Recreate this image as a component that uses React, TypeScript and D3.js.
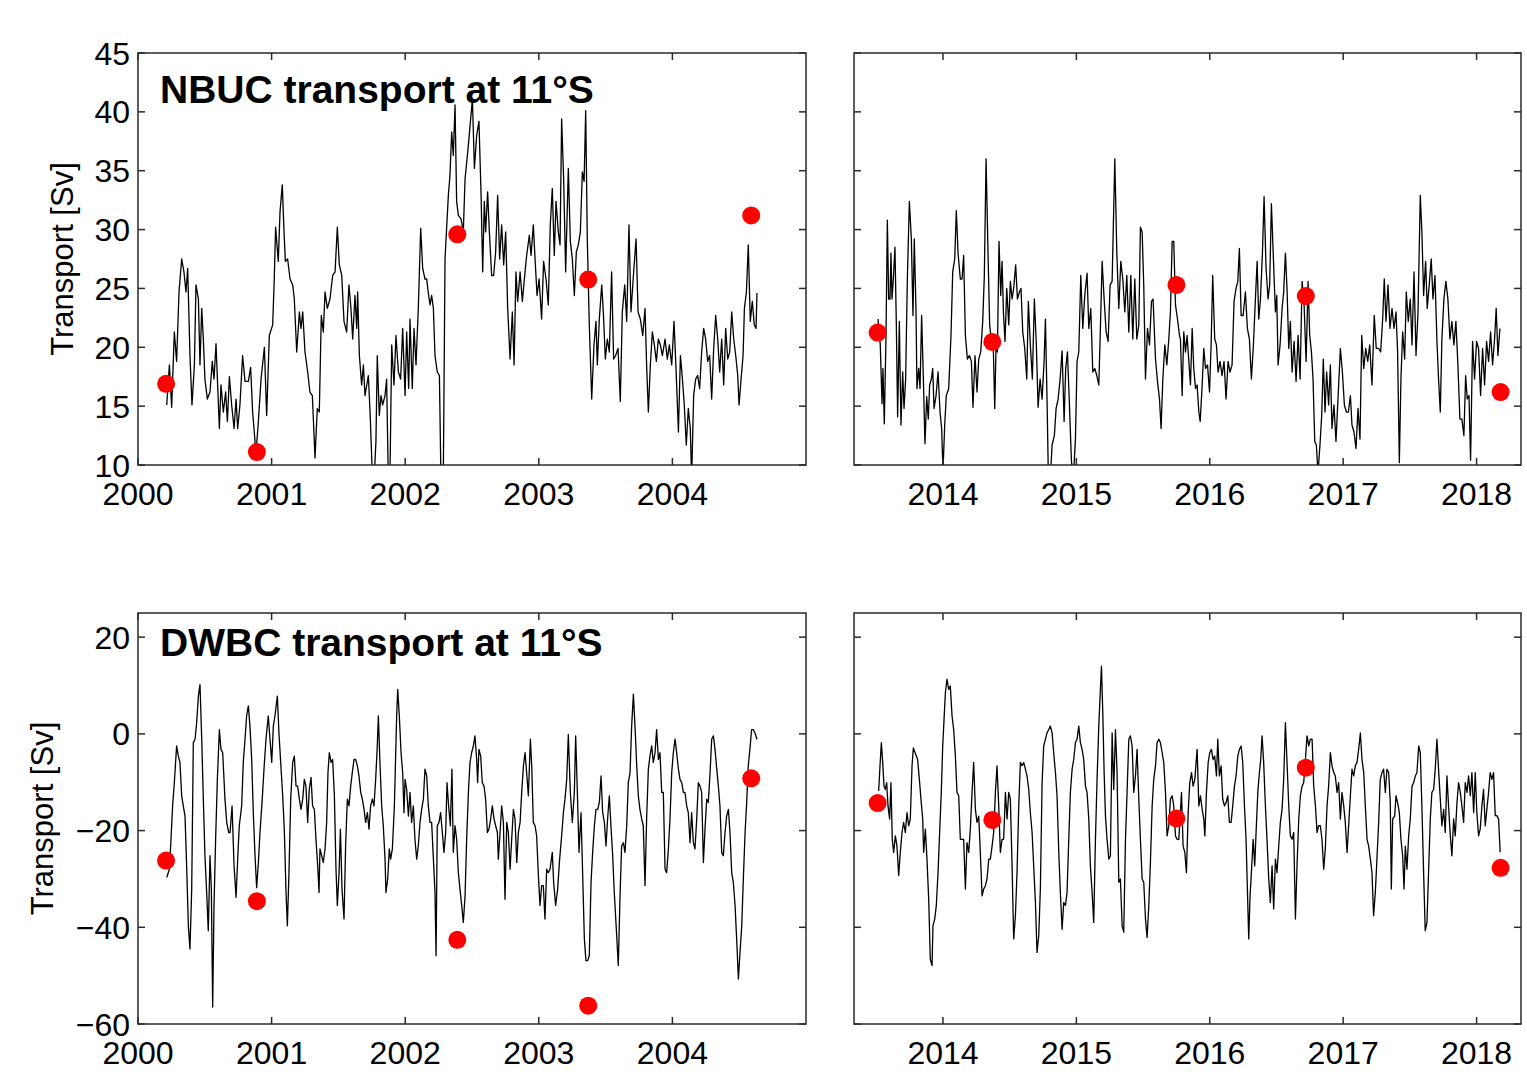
import React from 'react'
import * as d3 from 'd3'

// NBUC transport at 11°S, 2000-2004 mooring period [year, Sv]
const nbucEarly: [number, number][] = [
  [2000.215, 15.1], [2000.235, 18.5], [2000.252, 14.9], [2000.272, 21.3], [2000.289, 18.8], [2000.307, 24.7],
  [2000.327, 27.5], [2000.344, 26.4], [2000.359, 24.7], [2000.372, 26.7], [2000.389, 19.3], [2000.404, 15.1],
  [2000.422, 18.5], [2000.434, 25.3], [2000.452, 24.1], [2000.464, 18.5], [2000.477, 23.3], [2000.489, 20.7],
  [2000.501, 17.3], [2000.519, 15.6], [2000.539, 16.2], [2000.556, 18.8], [2000.569, 17.3], [2000.584, 20.3],
  [2000.596, 16.8], [2000.609, 13.1], [2000.621, 16.8], [2000.639, 14.5], [2000.656, 16.2], [2000.669, 13.7],
  [2000.684, 17.5], [2000.701, 15.1], [2000.719, 13.1], [2000.734, 15.6], [2000.746, 13.1], [2000.763, 15.1],
  [2000.783, 19.3], [2000.801, 17.1], [2000.826, 17.1], [2000.843, 18.3], [2000.858, 14.5], [2000.883, 11.0],
  [2000.901, 13.7], [2000.921, 17.3], [2000.946, 20.0], [2000.963, 14.2], [2000.983, 21.0], [2001.008, 21.9],
  [2001.020, 25.8], [2001.030, 30.2], [2001.050, 27.3], [2001.063, 31.5], [2001.080, 33.8], [2001.093, 29.8],
  [2001.103, 27.3], [2001.120, 27.5], [2001.138, 25.8], [2001.158, 25.3], [2001.170, 24.1], [2001.188, 19.6],
  [2001.208, 23.0], [2001.220, 21.6], [2001.233, 23.0], [2001.250, 19.6], [2001.270, 17.9], [2001.287, 16.2],
  [2001.305, 15.9], [2001.325, 10.6], [2001.342, 14.8], [2001.357, 14.5], [2001.372, 22.7], [2001.387, 21.3],
  [2001.400, 24.7], [2001.417, 23.3], [2001.437, 24.1], [2001.457, 26.1], [2001.475, 26.4], [2001.492, 30.2],
  [2001.507, 27.0], [2001.525, 26.1], [2001.542, 22.2], [2001.562, 21.3], [2001.579, 25.3], [2001.594, 23.3],
  [2001.607, 20.7], [2001.624, 24.4], [2001.637, 21.6], [2001.644, 24.7], [2001.657, 19.3], [2001.674, 16.8],
  [2001.687, 18.5], [2001.699, 15.9], [2001.724, 17.6], [2001.737, 14.5], [2001.752, 9.8], [2001.766, 8.5],
  [2001.781, 12.0], [2001.791, 19.3], [2001.806, 14.2], [2001.819, 15.9], [2001.831, 15.1], [2001.849, 15.9],
  [2001.861, 17.3], [2001.874, 8.5], [2001.886, 9.0], [2001.899, 20.2], [2001.916, 16.8], [2001.931, 21.0],
  [2001.949, 17.9], [2001.966, 17.3], [2001.981, 21.6], [2001.999, 15.9], [2002.011, 21.3], [2002.026, 16.5],
  [2002.036, 22.4], [2002.053, 16.5], [2002.066, 21.6], [2002.081, 18.5], [2002.098, 23.3], [2002.116, 30.1],
  [2002.131, 26.7], [2002.148, 25.8], [2002.161, 25.8], [2002.173, 24.6], [2002.186, 23.6], [2002.198, 24.4],
  [2002.211, 23.3], [2002.223, 19.3], [2002.240, 17.9], [2002.256, 17.6], [2002.268, 8.5], [2002.285, 8.5],
  [2002.298, 27.5], [2002.310, 30.1], [2002.323, 32.9], [2002.335, 34.6], [2002.348, 38.3], [2002.360, 36.3],
  [2002.373, 40.6], [2002.385, 32.4], [2002.398, 31.2], [2002.418, 30.9], [2002.435, 29.8], [2002.448, 34.3],
  [2002.473, 37.2], [2002.503, 41.1], [2002.518, 35.2], [2002.535, 38.0], [2002.552, 39.2], [2002.568, 32.9],
  [2002.580, 26.4], [2002.592, 32.4], [2002.602, 29.8], [2002.617, 33.2], [2002.630, 29.8], [2002.647, 26.1],
  [2002.662, 26.1], [2002.677, 28.1], [2002.692, 32.9], [2002.707, 27.5], [2002.722, 30.4], [2002.737, 27.0],
  [2002.752, 29.8], [2002.767, 23.3], [2002.785, 19.0], [2002.802, 23.0], [2002.815, 18.5], [2002.829, 26.4],
  [2002.842, 23.9], [2002.860, 26.4], [2002.877, 23.9], [2002.892, 25.8], [2002.909, 27.8], [2002.929, 29.5],
  [2002.942, 27.8], [2002.959, 30.4], [2002.972, 27.5], [2002.987, 24.4], [2003.002, 25.8], [2003.021, 22.4],
  [2003.036, 27.3], [2003.054, 25.8], [2003.071, 23.6], [2003.086, 30.4], [2003.101, 33.5], [2003.116, 27.8],
  [2003.129, 32.4], [2003.146, 29.8], [2003.159, 28.7], [2003.171, 39.4], [2003.186, 34.3], [2003.201, 26.4],
  [2003.221, 35.2], [2003.236, 29.0], [2003.251, 27.5], [2003.266, 24.4], [2003.281, 28.1], [2003.296, 28.7],
  [2003.311, 29.8], [2003.326, 34.9], [2003.339, 34.1], [2003.351, 40.1], [2003.363, 29.2], [2003.378, 21.9],
  [2003.396, 15.6], [2003.413, 20.2], [2003.428, 22.2], [2003.438, 18.5], [2003.453, 22.4], [2003.471, 25.3],
  [2003.483, 23.0], [2003.498, 19.0], [2003.513, 20.7], [2003.528, 19.6], [2003.545, 26.4], [2003.560, 19.0],
  [2003.575, 19.3], [2003.593, 19.9], [2003.610, 15.4], [2003.625, 23.0], [2003.643, 25.3], [2003.658, 22.2],
  [2003.675, 30.4], [2003.690, 23.0], [2003.710, 26.4], [2003.728, 29.2], [2003.743, 23.0], [2003.760, 22.4],
  [2003.778, 21.0], [2003.795, 23.3], [2003.807, 18.5], [2003.820, 14.5], [2003.835, 18.5], [2003.850, 21.3],
  [2003.865, 20.2], [2003.880, 18.8], [2003.895, 20.7], [2003.910, 20.2], [2003.925, 19.3], [2003.945, 20.7],
  [2003.962, 19.0], [2003.977, 20.2], [2003.995, 18.5], [2004.012, 22.2], [2004.027, 18.2], [2004.045, 12.8],
  [2004.060, 19.3], [2004.075, 17.3], [2004.089, 15.1], [2004.104, 11.7], [2004.119, 14.8], [2004.134, 13.1],
  [2004.144, 8.8], [2004.159, 15.9], [2004.174, 17.3], [2004.189, 17.6], [2004.204, 16.5], [2004.219, 19.6],
  [2004.234, 21.6], [2004.249, 20.7], [2004.264, 18.8], [2004.279, 19.3], [2004.294, 15.6], [2004.309, 19.9],
  [2004.324, 22.7], [2004.339, 20.7], [2004.354, 17.9], [2004.369, 20.7], [2004.384, 16.8], [2004.399, 21.6],
  [2004.414, 19.0], [2004.429, 19.6], [2004.444, 23.0], [2004.459, 20.7], [2004.474, 19.3], [2004.489, 17.6],
  [2004.499, 15.1], [2004.514, 17.3], [2004.529, 19.3], [2004.539, 23.3], [2004.554, 24.7], [2004.568, 28.7],
  [2004.583, 22.2], [2004.598, 23.9], [2004.613, 21.9], [2004.626, 21.6], [2004.633, 24.6]
]

// NBUC transport at 11°S, 2013-2018 mooring period
const nbucLate: [number, number][] = [
  [2013.513, 22.4], [2013.530, 20.2], [2013.543, 15.2], [2013.550, 18.2], [2013.560, 13.5], [2013.573, 21.0],
  [2013.583, 30.8], [2013.593, 24.1], [2013.603, 24.1], [2013.610, 28.0], [2013.618, 24.1], [2013.628, 25.8],
  [2013.640, 28.5], [2013.650, 22.2], [2013.660, 14.1], [2013.673, 22.2], [2013.685, 13.4], [2013.698, 17.9],
  [2013.708, 14.8], [2013.720, 17.3], [2013.733, 25.8], [2013.748, 32.4], [2013.763, 29.2], [2013.775, 22.7],
  [2013.785, 29.2], [2013.798, 23.0], [2013.805, 16.5], [2013.818, 18.2], [2013.828, 16.5], [2013.840, 22.7],
  [2013.853, 17.3], [2013.865, 11.8], [2013.878, 15.8], [2013.890, 13.9], [2013.900, 16.8], [2013.913, 17.3],
  [2013.923, 18.2], [2013.933, 14.8], [2013.948, 15.9], [2013.963, 17.9], [2013.978, 14.5], [2013.990, 13.1],
  [2014.000, 9.5], [2014.013, 13.4], [2014.025, 15.9], [2014.043, 16.5], [2014.060, 21.0], [2014.073, 26.4],
  [2014.088, 27.5], [2014.100, 31.6], [2014.113, 28.0], [2014.130, 25.8], [2014.143, 25.8], [2014.155, 27.8],
  [2014.168, 21.0], [2014.183, 19.0], [2014.198, 19.3], [2014.213, 18.8], [2014.225, 14.9], [2014.240, 19.3],
  [2014.255, 16.2], [2014.268, 19.0], [2014.283, 19.6], [2014.298, 22.2], [2014.310, 26.1], [2014.323, 36.0],
  [2014.338, 27.8], [2014.350, 21.9], [2014.363, 20.5], [2014.378, 19.6], [2014.388, 14.8], [2014.398, 20.2],
  [2014.408, 19.6], [2014.420, 29.0], [2014.433, 24.4], [2014.443, 27.3], [2014.453, 23.0], [2014.465, 20.5],
  [2014.478, 25.0], [2014.493, 21.9], [2014.505, 25.6], [2014.518, 24.1], [2014.530, 25.0], [2014.545, 27.0],
  [2014.558, 24.1], [2014.573, 24.7], [2014.585, 25.0], [2014.598, 21.3], [2014.613, 19.9], [2014.628, 17.3],
  [2014.640, 23.9], [2014.655, 20.2], [2014.670, 17.3], [2014.685, 24.1], [2014.700, 20.2], [2014.713, 14.9],
  [2014.728, 17.3], [2014.743, 15.6], [2014.758, 18.8], [2014.768, 22.4], [2014.780, 15.6], [2014.790, 9.0],
  [2014.805, 9.0], [2014.818, 11.7], [2014.835, 12.5], [2014.848, 14.8], [2014.863, 15.6], [2014.878, 17.3],
  [2014.893, 19.7], [2014.908, 13.7], [2014.920, 18.2], [2014.933, 19.6], [2014.948, 15.1], [2014.963, 10.3],
  [2014.978, 9.0], [2014.993, 12.2], [2015.005, 18.8], [2015.018, 19.6], [2015.033, 26.1], [2015.048, 21.6],
  [2015.063, 24.4], [2015.080, 26.3], [2015.093, 21.6], [2015.108, 23.3], [2015.123, 17.9], [2015.138, 18.2],
  [2015.153, 17.6], [2015.168, 16.8], [2015.178, 20.7], [2015.193, 27.3], [2015.208, 24.1], [2015.223, 21.3],
  [2015.238, 20.5], [2015.253, 25.3], [2015.268, 25.6], [2015.288, 36.0], [2015.303, 28.1], [2015.318, 23.3],
  [2015.333, 27.3], [2015.348, 25.8], [2015.363, 23.0], [2015.378, 26.1], [2015.393, 21.3], [2015.408, 26.1],
  [2015.423, 20.7], [2015.438, 25.8], [2015.453, 20.7], [2015.468, 21.9], [2015.480, 30.2], [2015.493, 29.8],
  [2015.505, 25.3], [2015.518, 17.3], [2015.533, 21.6], [2015.548, 20.2], [2015.563, 23.9], [2015.575, 24.1],
  [2015.593, 19.0], [2015.608, 17.1], [2015.623, 15.6], [2015.635, 13.1], [2015.648, 17.3], [2015.663, 20.2],
  [2015.678, 18.5], [2015.693, 20.7], [2015.705, 23.0], [2015.718, 29.0], [2015.730, 29.0], [2015.743, 23.6],
  [2015.758, 22.4], [2015.773, 21.0], [2015.780, 20.7], [2015.793, 15.9], [2015.805, 21.3], [2015.818, 19.6],
  [2015.830, 21.0], [2015.843, 18.8], [2015.855, 16.8], [2015.868, 21.6], [2015.880, 18.2], [2015.893, 16.5],
  [2015.905, 16.8], [2015.918, 14.5], [2015.928, 13.7], [2015.943, 16.8], [2015.955, 19.9], [2015.968, 18.2],
  [2015.983, 18.5], [2015.998, 16.2], [2016.010, 20.2], [2016.022, 26.1], [2016.037, 20.7], [2016.050, 20.2],
  [2016.062, 17.9], [2016.077, 18.8], [2016.092, 17.6], [2016.107, 18.8], [2016.122, 15.6], [2016.137, 18.8],
  [2016.152, 17.9], [2016.167, 18.5], [2016.182, 23.9], [2016.197, 25.0], [2016.210, 25.6], [2016.222, 28.4],
  [2016.235, 22.7], [2016.250, 22.7], [2016.267, 24.7], [2016.282, 21.6], [2016.297, 20.7], [2016.312, 17.3],
  [2016.327, 20.2], [2016.342, 24.1], [2016.355, 27.3], [2016.367, 22.4], [2016.380, 24.1], [2016.395, 28.1],
  [2016.407, 32.8], [2016.422, 26.7], [2016.437, 24.1], [2016.449, 25.3], [2016.462, 32.2], [2016.477, 27.5],
  [2016.492, 23.0], [2016.502, 24.4], [2016.512, 18.5], [2016.527, 20.2], [2016.542, 23.3], [2016.554, 24.7],
  [2016.567, 28.0], [2016.579, 25.0], [2016.592, 19.9], [2016.604, 22.2], [2016.617, 17.9], [2016.632, 20.5],
  [2016.647, 17.1], [2016.662, 21.0], [2016.677, 17.3], [2016.692, 25.6], [2016.707, 23.6], [2016.722, 18.8],
  [2016.737, 25.6], [2016.749, 21.0], [2016.762, 19.6], [2016.774, 17.3], [2016.787, 12.0], [2016.799, 11.7],
  [2016.811, 9.3], [2016.826, 11.7], [2016.839, 14.2], [2016.851, 19.0], [2016.864, 14.5], [2016.876, 17.9],
  [2016.891, 15.1], [2016.904, 18.5], [2016.916, 13.1], [2016.931, 15.1], [2016.946, 12.0], [2016.961, 15.6],
  [2016.979, 19.9], [2016.994, 17.9], [2017.009, 15.1], [2017.024, 14.5], [2017.039, 14.5], [2017.054, 15.9],
  [2017.066, 13.4], [2017.081, 12.8], [2017.096, 11.4], [2017.111, 14.8], [2017.126, 12.2], [2017.139, 21.0],
  [2017.154, 18.2], [2017.169, 19.9], [2017.184, 18.8], [2017.199, 20.2], [2017.216, 16.8], [2017.233, 22.7],
  [2017.248, 19.9], [2017.266, 19.9], [2017.281, 19.6], [2017.296, 22.4], [2017.308, 25.8], [2017.321, 22.2],
  [2017.336, 25.3], [2017.351, 21.6], [2017.366, 23.3], [2017.381, 21.6], [2017.396, 23.0], [2017.408, 19.6],
  [2017.421, 10.2], [2017.433, 17.3], [2017.446, 21.3], [2017.461, 19.0], [2017.473, 24.7], [2017.488, 22.2],
  [2017.503, 24.1], [2017.516, 20.2], [2017.531, 26.4], [2017.546, 19.3], [2017.561, 23.0], [2017.578, 32.9],
  [2017.590, 29.8], [2017.603, 24.4], [2017.618, 27.3], [2017.630, 23.3], [2017.645, 25.3], [2017.660, 27.5],
  [2017.673, 24.1], [2017.688, 26.1], [2017.703, 20.5], [2017.715, 17.3], [2017.728, 14.5], [2017.740, 20.7],
  [2017.755, 24.1], [2017.770, 25.6], [2017.785, 24.1], [2017.800, 20.7], [2017.815, 22.2], [2017.830, 20.2],
  [2017.845, 22.2], [2017.860, 18.5], [2017.875, 13.9], [2017.890, 13.9], [2017.905, 12.5], [2017.918, 17.6],
  [2017.930, 15.6], [2017.943, 15.9], [2017.955, 10.4], [2017.970, 20.5], [2017.985, 17.3], [2018.000, 20.5],
  [2018.015, 19.9], [2018.030, 15.9], [2018.045, 19.9], [2018.060, 16.8], [2018.075, 20.5], [2018.090, 18.8],
  [2018.105, 21.3], [2018.120, 18.5], [2018.135, 20.7], [2018.147, 23.3], [2018.160, 19.3], [2018.175, 21.6]
]

// DWBC transport at 11°S, 2000-2004
const dwbcEarly: [number, number][] = [
  [2000.215, -29.7], [2000.235, -28.0], [2000.247, -21.8], [2000.259, -14.9], [2000.272, -10.1], [2000.289, -2.5],
  [2000.302, -4.6], [2000.314, -5.9], [2000.327, -12.8], [2000.339, -14.9], [2000.352, -17.0], [2000.364, -27.3],
  [2000.377, -39.7], [2000.389, -44.5], [2000.402, -32.1], [2000.414, -1.8], [2000.427, -1.1], [2000.439, 2.3],
  [2000.452, 7.8], [2000.464, 10.2], [2000.477, -1.1], [2000.489, -13.5], [2000.501, -25.2], [2000.514, -32.8],
  [2000.526, -40.7], [2000.539, -25.2], [2000.549, -32.1], [2000.559, -56.5], [2000.569, -35.5], [2000.581, -21.8],
  [2000.594, -9.4], [2000.609, 0.9], [2000.621, -3.2], [2000.634, -3.9], [2000.651, -13.5], [2000.664, -18.3],
  [2000.679, -20.4], [2000.689, -20.4], [2000.704, -14.9], [2000.719, -27.3], [2000.734, -33.8], [2000.746, -25.9],
  [2000.758, -19.0], [2000.776, -14.9], [2000.788, -5.9], [2000.801, -1.1], [2000.813, 3.7], [2000.826, 5.8],
  [2000.838, 1.6], [2000.851, -5.3], [2000.863, -16.3], [2000.876, -25.2], [2000.888, -31.8], [2000.901, -26.6],
  [2000.913, -20.4], [2000.930, -13.5], [2000.943, -7.3], [2000.958, -1.1], [2000.975, 3.7], [2000.988, -1.1],
  [2001.001, -5.9], [2001.013, 1.6], [2001.025, 3.7], [2001.043, 7.8], [2001.055, 0.2], [2001.068, -5.9],
  [2001.083, -12.8], [2001.095, -19.7], [2001.108, -32.8], [2001.118, -39.7], [2001.130, -28.7], [2001.143, -13.5],
  [2001.158, -5.9], [2001.170, -4.6], [2001.183, -10.8], [2001.195, -10.8], [2001.208, -13.5], [2001.220, -15.6],
  [2001.233, -13.5], [2001.245, -9.4], [2001.257, -10.8], [2001.270, -18.3], [2001.282, -11.5], [2001.295, -9.0],
  [2001.307, -14.9], [2001.320, -15.6], [2001.332, -21.8], [2001.345, -27.3], [2001.355, -32.8], [2001.362, -23.8],
  [2001.375, -25.2], [2001.387, -26.6], [2001.400, -23.8], [2001.412, -18.3], [2001.422, -8.0], [2001.432, -3.9],
  [2001.445, -5.9], [2001.457, -5.3], [2001.470, -12.8], [2001.482, -28.0], [2001.492, -35.5], [2001.505, -28.7],
  [2001.515, -19.7], [2001.527, -32.1], [2001.542, -38.3], [2001.554, -23.2], [2001.567, -13.5], [2001.579, -14.9],
  [2001.592, -10.8], [2001.604, -8.0], [2001.617, -5.3], [2001.629, -5.3], [2001.642, -6.6], [2001.654, -8.7],
  [2001.667, -12.1], [2001.679, -13.5], [2001.692, -15.6], [2001.704, -18.3], [2001.717, -16.3], [2001.729, -19.7],
  [2001.741, -14.9], [2001.754, -13.5], [2001.766, -14.9], [2001.779, -9.4], [2001.791, -2.5], [2001.799, 3.7],
  [2001.811, -5.9], [2001.824, -14.9], [2001.836, -19.0], [2001.849, -25.9], [2001.856, -32.8], [2001.869, -30.0],
  [2001.881, -23.8], [2001.891, -25.9], [2001.904, -23.8], [2001.919, -14.9], [2001.936, 3.7], [2001.944, 9.2],
  [2001.956, 3.7], [2001.969, -3.9], [2001.981, -8.0], [2001.991, -16.3], [2001.999, -9.4], [2002.011, -11.5],
  [2002.024, -17.0], [2002.036, -12.1], [2002.048, -18.3], [2002.061, -14.9], [2002.073, -21.8], [2002.086, -25.9],
  [2002.098, -23.2], [2002.111, -18.3], [2002.123, -15.6], [2002.136, -13.5], [2002.148, -7.3], [2002.161, -8.7],
  [2002.173, -14.9], [2002.186, -18.3], [2002.198, -18.3], [2002.211, -25.9], [2002.223, -32.8], [2002.231, -45.9],
  [2002.240, -19.0], [2002.253, -18.3], [2002.265, -16.3], [2002.278, -20.4], [2002.290, -24.5], [2002.303, -20.4],
  [2002.313, -10.1], [2002.325, -14.9], [2002.338, -19.0], [2002.350, -7.3], [2002.360, -24.5], [2002.373, -19.0],
  [2002.385, -21.8], [2002.398, -28.7], [2002.410, -32.1], [2002.423, -35.5], [2002.435, -39.0], [2002.448, -33.5],
  [2002.460, -21.8], [2002.473, -12.1], [2002.485, -5.9], [2002.497, -3.9], [2002.510, -2.5], [2002.522, -0.4],
  [2002.535, -5.3], [2002.542, -10.1], [2002.552, -3.2], [2002.565, -4.6], [2002.577, -10.1], [2002.590, -10.8],
  [2002.602, -13.5], [2002.615, -20.4], [2002.627, -19.7], [2002.640, -17.6], [2002.652, -14.9], [2002.665, -17.6],
  [2002.677, -19.0], [2002.690, -20.4], [2002.697, -25.9], [2002.710, -20.4], [2002.722, -14.9], [2002.735, -18.3],
  [2002.747, -34.2], [2002.760, -18.3], [2002.772, -20.4], [2002.785, -28.0], [2002.797, -21.8], [2002.810, -15.6],
  [2002.822, -17.6], [2002.835, -26.6], [2002.847, -20.4], [2002.860, -18.3], [2002.872, -12.1], [2002.885, -6.6],
  [2002.897, -3.9], [2002.909, -8.0], [2002.922, -12.8], [2002.937, -1.1], [2002.947, -6.6], [2002.959, -18.3],
  [2002.972, -19.0], [2002.984, -21.1], [2002.997, -29.3], [2003.009, -35.5], [2003.021, -31.4], [2003.034, -31.4],
  [2003.046, -38.3], [2003.059, -28.0], [2003.071, -28.7], [2003.084, -28.0], [2003.101, -24.5], [2003.111, -30.7],
  [2003.126, -35.5], [2003.141, -32.1], [2003.156, -25.9], [2003.171, -21.1], [2003.184, -16.3], [2003.196, -13.5],
  [2003.209, -9.4], [2003.221, -0.1], [2003.236, -12.1], [2003.251, -18.3], [2003.266, -12.1], [2003.276, -0.4],
  [2003.288, -11.5], [2003.301, -24.5], [2003.316, -16.3], [2003.328, -28.7], [2003.341, -42.4], [2003.353, -46.9],
  [2003.366, -46.9], [2003.378, -45.9], [2003.391, -30.7], [2003.403, -24.5], [2003.416, -19.0], [2003.428, -15.6],
  [2003.441, -15.6], [2003.453, -14.2], [2003.466, -8.7], [2003.478, -16.3], [2003.491, -18.3], [2003.503, -23.2],
  [2003.515, -17.6], [2003.528, -12.8], [2003.540, -19.0], [2003.553, -25.2], [2003.565, -32.8], [2003.583, -41.7],
  [2003.595, -47.9], [2003.608, -33.5], [2003.620, -23.2], [2003.633, -22.5], [2003.645, -24.5], [2003.658, -19.0],
  [2003.670, -10.1], [2003.683, -8.0], [2003.695, 1.6], [2003.708, 8.2], [2003.720, 1.6], [2003.733, -6.6],
  [2003.745, -12.8], [2003.757, -15.6], [2003.770, -17.6], [2003.782, -19.0], [2003.795, -31.4], [2003.807, -17.6],
  [2003.820, -7.3], [2003.832, -4.6], [2003.845, -2.5], [2003.857, -5.9], [2003.870, -3.9], [2003.882, 0.9],
  [2003.895, -5.3], [2003.907, -3.9], [2003.920, -12.1], [2003.932, -12.1], [2003.945, -28.0], [2003.957, -28.7],
  [2003.970, -23.8], [2003.982, -17.6], [2003.995, -8.0], [2004.007, -3.9], [2004.020, -1.1], [2004.032, -3.9],
  [2004.045, -7.3], [2004.057, -9.4], [2004.070, -10.1], [2004.082, -12.1], [2004.094, -12.1], [2004.107, -14.9],
  [2004.119, -16.3], [2004.132, -22.5], [2004.144, -16.3], [2004.157, -22.5], [2004.169, -23.8], [2004.182, -17.6],
  [2004.194, -10.1], [2004.207, -10.8], [2004.219, -12.1], [2004.232, -26.6], [2004.244, -19.7], [2004.257, -13.5],
  [2004.269, -14.2], [2004.282, -8.0], [2004.294, -1.1], [2004.307, -0.4], [2004.319, -3.2], [2004.332, -7.3],
  [2004.344, -10.8], [2004.356, -14.9], [2004.369, -24.5], [2004.381, -25.2], [2004.394, -20.4], [2004.406, -17.0],
  [2004.419, -15.6], [2004.431, -20.4], [2004.444, -28.7], [2004.456, -30.7], [2004.469, -35.5], [2004.481, -42.4],
  [2004.494, -50.7], [2004.506, -45.2], [2004.519, -39.7], [2004.531, -30.0], [2004.544, -20.4], [2004.556, -14.2],
  [2004.568, -6.6], [2004.581, -2.9], [2004.593, 0.9], [2004.606, 0.9], [2004.618, 0.2], [2004.633, -1.1]
]

// DWBC transport at 11°S, 2013-2018
const dwbcLate: [number, number][] = [
  [2013.518, -11.8], [2013.528, -6.6], [2013.538, -1.8], [2013.548, -5.9], [2013.558, -10.8], [2013.568, -11.5],
  [2013.578, -10.1], [2013.588, -14.9], [2013.600, -17.6], [2013.610, -10.1], [2013.620, -21.8], [2013.630, -24.5],
  [2013.643, -21.1], [2013.655, -23.2], [2013.668, -29.3], [2013.680, -24.5], [2013.693, -20.4], [2013.705, -18.3],
  [2013.718, -20.4], [2013.730, -16.3], [2013.743, -19.0], [2013.755, -17.6], [2013.768, -6.6], [2013.778, -2.9],
  [2013.810, -5.3], [2013.823, -9.4], [2013.835, -13.5], [2013.848, -17.6], [2013.855, -24.5], [2013.868, -19.7],
  [2013.880, -25.9], [2013.893, -34.2], [2013.905, -46.6], [2013.918, -47.9], [2013.925, -39.7], [2013.938, -38.3],
  [2013.950, -35.5], [2013.963, -28.7], [2013.975, -20.4], [2013.988, -11.5], [2013.998, -2.5], [2014.008, 3.0],
  [2014.018, 8.5], [2014.030, 11.3], [2014.043, 9.2], [2014.055, 9.9], [2014.068, 3.7], [2014.080, 0.9],
  [2014.093, -4.6], [2014.105, -12.1], [2014.118, -12.8], [2014.130, -21.8], [2014.143, -21.8], [2014.155, -21.8],
  [2014.168, -32.1], [2014.180, -22.5], [2014.193, -24.5], [2014.205, -19.7], [2014.218, -12.1], [2014.230, -5.9],
  [2014.243, -15.6], [2014.255, -18.3], [2014.268, -17.0], [2014.280, -24.5], [2014.293, -33.5], [2014.305, -32.1],
  [2014.318, -31.4], [2014.330, -30.0], [2014.343, -25.9], [2014.355, -25.9], [2014.368, -23.2], [2014.380, -20.4],
  [2014.393, -12.1], [2014.405, -6.6], [2014.418, -14.9], [2014.430, -24.5], [2014.443, -21.8], [2014.455, -21.8],
  [2014.468, -12.1], [2014.480, -17.6], [2014.493, -12.1], [2014.505, -13.5], [2014.518, -27.3], [2014.530, -42.4],
  [2014.543, -37.6], [2014.555, -28.7], [2014.568, -14.9], [2014.580, -5.9], [2014.593, -6.6], [2014.605, -5.9],
  [2014.618, -7.3], [2014.630, -8.7], [2014.643, -11.5], [2014.655, -16.3], [2014.668, -20.4], [2014.680, -27.3],
  [2014.693, -34.9], [2014.705, -45.2], [2014.718, -41.7], [2014.730, -32.1], [2014.743, -10.1], [2014.755, -2.5],
  [2014.768, -1.1], [2014.780, 0.2], [2014.793, 0.9], [2014.805, 1.6], [2014.818, 0.2], [2014.830, -3.9],
  [2014.843, -8.0], [2014.855, -12.8], [2014.868, -24.5], [2014.880, -32.8], [2014.893, -40.4], [2014.905, -34.9],
  [2014.918, -35.5], [2014.930, -32.8], [2014.943, -21.8], [2014.955, -12.1], [2014.968, -7.3], [2014.980, -5.3],
  [2014.993, -1.8], [2015.005, -1.1], [2015.018, 1.6], [2015.030, -1.8], [2015.043, -3.2], [2015.055, -5.3],
  [2015.068, -10.8], [2015.080, -12.1], [2015.093, -17.6], [2015.105, -27.3], [2015.118, -32.8], [2015.130, -39.0],
  [2015.143, -21.8], [2015.155, -9.4], [2015.168, 1.6], [2015.180, 9.2], [2015.188, 14.0], [2015.198, 4.4],
  [2015.208, -8.0], [2015.218, -17.0], [2015.230, -21.8], [2015.243, -25.9], [2015.255, -25.2], [2015.268, 0.2],
  [2015.280, -11.5], [2015.293, 0.9], [2015.305, -8.0], [2015.318, -30.7], [2015.330, -30.0], [2015.343, -39.7],
  [2015.355, -41.0], [2015.368, -21.8], [2015.380, -12.1], [2015.393, -1.1], [2015.405, -0.4], [2015.418, -2.5],
  [2015.430, -12.1], [2015.443, -8.7], [2015.455, -3.2], [2015.468, -13.5], [2015.480, -21.8], [2015.493, -30.0],
  [2015.505, -30.7], [2015.518, -38.3], [2015.530, -42.1], [2015.543, -35.5], [2015.555, -26.6], [2015.568, -14.9],
  [2015.580, -9.4], [2015.593, -6.6], [2015.605, -1.8], [2015.618, -1.1], [2015.630, -1.8], [2015.643, -3.9],
  [2015.655, -5.9], [2015.668, -12.1], [2015.680, -21.1], [2015.693, -19.0], [2015.705, -13.5], [2015.718, -12.8],
  [2015.730, -14.9], [2015.743, -21.1], [2015.755, -21.8], [2015.768, -21.8], [2015.788, -12.1], [2015.800, -23.2],
  [2015.813, -24.5], [2015.825, -28.7], [2015.838, -16.3], [2015.850, -10.1], [2015.863, -8.0], [2015.875, -10.8],
  [2015.888, -9.4], [2015.905, -3.2], [2015.918, -14.9], [2015.930, -12.8], [2015.943, -15.6], [2015.955, -17.6],
  [2015.963, -21.1], [2015.975, -12.1], [2015.988, -5.9], [2016.000, -3.9], [2016.012, -3.2], [2016.025, -5.3],
  [2016.037, -4.6], [2016.050, -8.7], [2016.060, -1.1], [2016.072, -8.7], [2016.085, -6.6], [2016.097, -13.5],
  [2016.110, -14.9], [2016.122, -14.2], [2016.135, -12.8], [2016.147, -18.3], [2016.160, -18.3], [2016.172, -14.9],
  [2016.185, -10.8], [2016.197, -8.7], [2016.210, -4.6], [2016.222, -3.2], [2016.235, -2.5], [2016.247, -5.9],
  [2016.260, -14.9], [2016.272, -21.8], [2016.282, -32.1], [2016.292, -42.4], [2016.302, -33.5], [2016.312, -28.7],
  [2016.325, -21.8], [2016.337, -27.3], [2016.347, -20.4], [2016.360, -12.1], [2016.372, -8.0], [2016.382, -5.3],
  [2016.392, -0.4], [2016.404, -5.9], [2016.417, -14.9], [2016.429, -21.8], [2016.442, -30.0], [2016.454, -34.9],
  [2016.467, -27.3], [2016.479, -36.2], [2016.492, -25.9], [2016.504, -28.7], [2016.517, -23.2], [2016.529, -18.3],
  [2016.542, -15.6], [2016.554, -9.4], [2016.567, 2.3], [2016.579, -5.9], [2016.592, -14.9], [2016.604, -21.1],
  [2016.617, -21.8], [2016.629, -20.4], [2016.642, -38.3], [2016.654, -27.3], [2016.667, -17.6], [2016.679, -12.8],
  [2016.692, -10.8], [2016.704, -10.1], [2016.717, -5.3], [2016.729, -0.4], [2016.742, -2.5], [2016.754, -1.1],
  [2016.767, -1.1], [2016.779, -10.8], [2016.792, -14.9], [2016.804, -20.4], [2016.816, -19.0], [2016.829, -19.0],
  [2016.841, -21.8], [2016.854, -28.0], [2016.866, -23.8], [2016.879, -14.9], [2016.891, -10.8], [2016.904, -3.9],
  [2016.916, -6.6], [2016.929, -8.0], [2016.941, -8.7], [2016.954, -12.1], [2016.966, -10.1], [2016.979, -17.6],
  [2016.991, -12.1], [2017.004, -14.9], [2017.016, -18.3], [2017.029, -24.5], [2017.041, -19.0], [2017.054, -12.8],
  [2017.066, -7.3], [2017.079, -8.7], [2017.091, -6.6], [2017.104, -5.9], [2017.116, -3.2], [2017.129, 0.2],
  [2017.141, -5.3], [2017.154, -8.0], [2017.166, -14.9], [2017.179, -21.8], [2017.191, -23.2], [2017.204, -25.9],
  [2017.216, -28.7], [2017.228, -37.6], [2017.241, -32.8], [2017.253, -25.9], [2017.266, -18.3], [2017.278, -9.4],
  [2017.291, -8.0], [2017.303, -7.3], [2017.316, -12.1], [2017.328, -7.3], [2017.341, -8.0], [2017.353, -14.2],
  [2017.361, -32.1], [2017.371, -17.6], [2017.386, -17.0], [2017.396, -12.8], [2017.408, -14.2], [2017.421, -16.3],
  [2017.433, -21.8], [2017.446, -25.2], [2017.456, -32.1], [2017.466, -23.2], [2017.478, -28.0], [2017.491, -21.1],
  [2017.503, -17.6], [2017.516, -10.8], [2017.528, -10.1], [2017.541, -8.7], [2017.553, -8.0], [2017.566, -2.5],
  [2017.578, -3.9], [2017.590, -14.9], [2017.603, -28.7], [2017.615, -40.7], [2017.628, -39.0], [2017.640, -28.7],
  [2017.653, -17.6], [2017.665, -12.1], [2017.678, -11.5], [2017.690, -7.3], [2017.703, -1.1], [2017.715, -7.3],
  [2017.728, -13.5], [2017.740, -19.0], [2017.753, -15.6], [2017.765, -20.4], [2017.778, -8.7], [2017.790, -14.9],
  [2017.803, -21.1], [2017.815, -25.2], [2017.828, -17.6], [2017.840, -21.1], [2017.853, -14.2], [2017.865, -10.1],
  [2017.878, -12.1], [2017.890, -14.9], [2017.903, -18.3], [2017.915, -10.1], [2017.928, -12.1], [2017.940, -8.7],
  [2017.953, -12.8], [2017.965, -8.0], [2017.978, -16.3], [2017.990, -8.0], [2018.002, -16.3], [2018.015, -21.1],
  [2018.027, -19.7], [2018.040, -14.9], [2018.052, -11.5], [2018.065, -19.0], [2018.077, -15.6], [2018.090, -12.1],
  [2018.102, -8.0], [2018.115, -9.4], [2018.127, -8.0], [2018.140, -16.9], [2018.152, -16.9], [2018.165, -17.6],
  [2018.177, -24.5]
]

// red markers (ship section estimates)
const nbucDotsEarly: [number, number][] = [[2000.21, 16.9], [2000.89, 11.1], [2002.39, 29.6], [2003.37, 25.75], [2004.59, 31.2]]
const nbucDotsLate: [number, number][] = [[2013.51, 21.25], [2014.37, 20.45], [2015.75, 25.3], [2016.72, 24.35], [2018.18, 16.2]]
const dwbcDotsEarly: [number, number][] = [[2000.21, -26.2], [2000.89, -34.6], [2002.39, -42.6], [2003.37, -56.2], [2004.59, -9.2]]
const dwbcDotsLate: [number, number][] = [[2013.51, -14.3], [2014.37, -17.8], [2015.75, -17.5], [2016.72, -7.0], [2018.18, -27.7]]

const earlyYears = [2000, 2001, 2002, 2003, 2004]
const lateYears = [2014, 2015, 2016, 2017, 2018]
const nbucTicks = [10, 15, 20, 25, 30, 35, 40, 45]
const dwbcTicks = [-60, -40, -20, 0, 20]

const FONT = '"Liberation Sans", Arial, Helvetica, sans-serif'
const TICK = 7

type PanelProps = {
  id: string
  left: number
  top: number
  width: number
  height: number
  xDomain: [number, number]
  yDomain: [number, number]
  xTicks: number[]
  yTicks: number[]
  series: [number, number][]
  dots: [number, number][]
  showYTickLabels: boolean
  title?: string
  titleY?: number
  yLabel?: string
  yLabelX?: number
}

function fmt (v: number) {
  return String(v).replace('-', '\u2212')
}

function Panel (props: PanelProps) {
  const { id, left, top, width, height, xDomain, yDomain, xTicks, yTicks, series, dots } = props
  const x = d3.scaleLinear().domain(xDomain).range([left, left + width])
  const y = d3.scaleLinear().domain(yDomain).range([top + height, top])
  const line = d3.line<[number, number]>()
    .x(d => x(d[0]))
    .y(d => y(d[1]))
  const bottom = top + height
  const right = left + width

  return (
    <g>
      <defs>
        <clipPath id={id}>
          <rect x={left} y={top} width={width} height={height} />
        </clipPath>
      </defs>
      <path d={line(series) || ''} fill='none' stroke='#000' strokeWidth={1.3}
        strokeLinejoin='round' clipPath={`url(#${id})`} />
      {dots.map((d, i) => (
        <circle key={i} cx={x(d[0])} cy={y(d[1])} r={9} fill='#ff0000' />
      ))}
      <rect x={left} y={top} width={width} height={height} fill='none' stroke='#2a2a2a' strokeWidth={1.5} />
      {xTicks.map(t => (
        <g key={'x' + t}>
          <line x1={x(t)} x2={x(t)} y1={bottom} y2={bottom - TICK} stroke='#2a2a2a' strokeWidth={1.5} />
          <line x1={x(t)} x2={x(t)} y1={top} y2={top + TICK} stroke='#2a2a2a' strokeWidth={1.5} />
          <text x={x(t)} y={bottom + 40} textAnchor='middle' fontSize={32} fontFamily={FONT}>{t}</text>
        </g>
      ))}
      {yTicks.map(t => (
        <g key={'y' + t}>
          <line x1={left} x2={left + TICK} y1={y(t)} y2={y(t)} stroke='#2a2a2a' strokeWidth={1.5} />
          <line x1={right} x2={right - TICK} y1={y(t)} y2={y(t)} stroke='#2a2a2a' strokeWidth={1.5} />
          {props.showYTickLabels && (
            <text x={left - 8} y={y(t)} dy='0.36em' textAnchor='end' fontSize={32} fontFamily={FONT}>{fmt(t)}</text>
          )}
        </g>
      ))}
      {props.title && (
        <text x={left + 22} y={props.titleY} fontSize={39} fontWeight='bold' fontFamily={FONT}>{props.title}</text>
      )}
      {props.yLabel && (
        <text transform={`translate(${props.yLabelX},${top + height / 2}) rotate(-90)`} textAnchor='middle'
          fontSize={31} fontFamily={FONT}>{props.yLabel}</text>
      )}
    </g>
  )
}

export default function App () {
  const early: [number, number] = [2000, 2005]
  const late: [number, number] = [2013.333, 2018.333]
  return (
    <svg width={1527} height={1079} style={{ position: 'absolute', left: 0, top: 0, background: '#fff' }}>
      <Panel id='c1' left={138} top={53} width={668} height={412} xDomain={early} yDomain={[10, 45]}
        xTicks={earlyYears} yTicks={nbucTicks} series={nbucEarly} dots={nbucDotsEarly} showYTickLabels
        title='NBUC transport at 11°S' titleY={103} yLabel='Transport [Sv]' yLabelX={73} />
      <Panel id='c2' left={854} top={53} width={667} height={412} xDomain={late} yDomain={[10, 45]}
        xTicks={lateYears} yTicks={nbucTicks} series={nbucLate} dots={nbucDotsLate} showYTickLabels={false} />
      <Panel id='c3' left={138} top={613} width={668} height={411} xDomain={early} yDomain={[-60, 25]}
        xTicks={earlyYears} yTicks={dwbcTicks} series={dwbcEarly} dots={dwbcDotsEarly} showYTickLabels
        title='DWBC transport at 11°S' titleY={656} yLabel='Transport [Sv]' yLabelX={53} />
      <Panel id='c4' left={854} top={613} width={667} height={411} xDomain={late} yDomain={[-60, 25]}
        xTicks={lateYears} yTicks={dwbcTicks} series={dwbcLate} dots={dwbcDotsLate} showYTickLabels={false} />
    </svg>
  )
}
